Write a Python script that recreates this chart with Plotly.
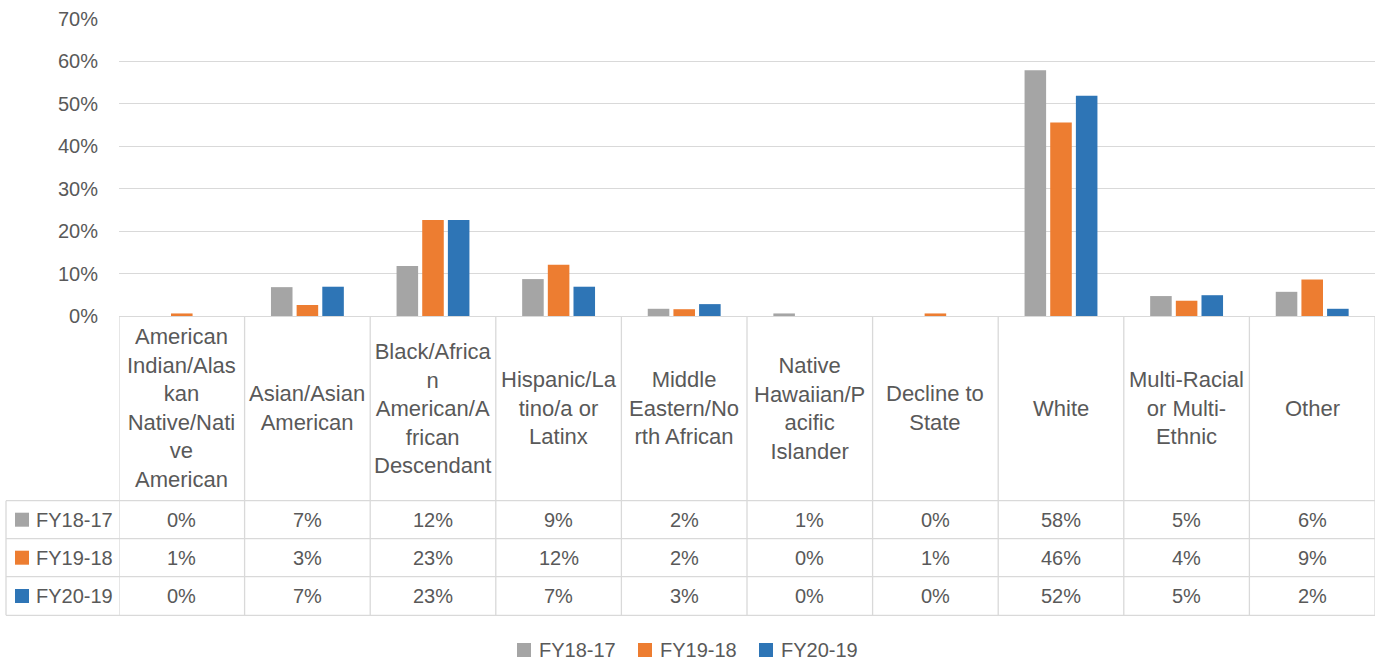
import plotly.graph_objects as go

# ---------------- data ----------------
categories = [
    "American Indian/Alaskan Native/Native American",
    "Asian/Asian American",
    "Black/African American/African Descendant",
    "Hispanic/Latino/a or Latinx",
    "Middle Eastern/North African",
    "Native Hawaiian/Pacific Islander",
    "Decline to State",
    "White",
    "Multi-Racial or Multi-Ethnic",
    "Other",
]
category_labels = [
    "American<br>Indian/Alas<br>kan<br>Native/Nati<br>ve<br>American",
    "Asian/Asian<br>American",
    "Black/Africa<br>n<br>American/A<br>frican<br>Descendant",
    "Hispanic/La<br>tino/a or<br>Latinx",
    "Middle<br>Eastern/No<br>rth African",
    "Native<br>Hawaiian/P<br>acific<br>Islander",
    "Decline to<br>State",
    "White",
    "Multi-Racial<br>or Multi-<br>Ethnic",
    "Other",
]
series_names = ["FY18-17", "FY19-18", "FY20-19"]
fy18_17 = [0.000, 0.068, 0.118, 0.087, 0.017, 0.006, 0.000, 0.579, 0.047, 0.057]
fy19_18 = [0.006, 0.026, 0.226, 0.121, 0.016, 0.000, 0.006, 0.456, 0.036, 0.086]
fy20_19 = [0.000, 0.069, 0.226, 0.069, 0.028, 0.000, 0.000, 0.519, 0.049, 0.017]
series_values = [fy18_17, fy19_18, fy20_19]
colors = ["#A5A5A5", "#ED7D31", "#2E75B6"]
y_ticks = [0, 0.1, 0.2, 0.3, 0.4, 0.5, 0.6, 0.7]

# ---------------- layout geometry ----------------
W, H = 1383, 660
L, R, T, B = 119, 8, 19, 344
PW, PH = W - L - R, H - T - B
Y0 = H - B  # pixel y of the 0% line


def xpap(px):
    return (px - L) / PW


def ypap(py):
    return (Y0 - py) / PH


TEXT = "#595959"
GRID = "#D9D9D9"
FONT = "Liberation Sans, Arial, sans-serif"

fig = go.Figure()
for name, vals, col in zip(series_names, series_values, colors):
    fig.add_trace(go.Bar(
        x=categories, y=vals, name=name, marker_color=col,
        marker_line_width=0, showlegend=False,
    ))

# table geometry (pixels)
header_bottom = 500.7
row_lines = [538.7, 576.7, 615.3]
table_left = 6
n = len(categories)

shapes = []
line = dict(color=GRID, width=1.3)
for i in range(n + 1):
    shapes.append(dict(type="line", xref="x", yref="paper",
                       x0=i - 0.5, x1=i - 0.5, y0=ypap(Y0), y1=ypap(row_lines[-1]),
                       line=line, layer="above"))
shapes.append(dict(type="line", xref="paper", yref="paper",
                   x0=xpap(table_left), x1=xpap(table_left),
                   y0=ypap(header_bottom), y1=ypap(row_lines[-1]), line=line))
for py in [header_bottom] + row_lines:
    shapes.append(dict(type="line", xref="paper", yref="paper",
                       x0=xpap(table_left), x1=1, y0=ypap(py), y1=ypap(py), line=line))

annotations = []
for i, lab in enumerate(category_labels):
    annotations.append(dict(x=i, y=ypap((Y0 + header_bottom) / 2), xref="x", yref="paper",
                            text=lab, showarrow=False, font=dict(size=22, color=TEXT, family=FONT),
                            align="center", xanchor="center", yanchor="middle"))
row_tops = [header_bottom] + row_lines[:-1]
for r, (name, vals, col) in enumerate(zip(series_names, series_values, colors)):
    cy = (row_tops[r] + row_lines[r]) / 2
    shapes.append(dict(type="rect", xref="paper", yref="paper",
                       x0=xpap(15), x1=xpap(29), y0=ypap(cy - 7), y1=ypap(cy + 7),
                       fillcolor=col, line=dict(width=0)))
    annotations.append(dict(x=xpap(34), y=ypap(cy), xref="paper", yref="paper",
                            text=name, showarrow=False, xanchor="left", yanchor="middle",
                            font=dict(size=20, color=TEXT, family=FONT)))
    for i, v in enumerate(vals):
        annotations.append(dict(x=i, y=ypap(cy), xref="x", yref="paper",
                                text=f"{round(v * 100):d}%", showarrow=False,
                                xanchor="center", yanchor="middle",
                                font=dict(size=20, color=TEXT, family=FONT)))

# bottom legend (drawn manually)
legend_y = 650
legend_x = [517, 638, 759]
for name, col, lx in zip(series_names, colors, legend_x):
    shapes.append(dict(type="rect", xref="paper", yref="paper",
                       x0=xpap(lx), x1=xpap(lx + 14),
                       y0=ypap(legend_y - 7), y1=ypap(legend_y + 7),
                       fillcolor=col, line=dict(width=0)))
    annotations.append(dict(x=xpap(lx + 20), y=ypap(legend_y), xref="paper", yref="paper",
                            text=name, showarrow=False, xanchor="left", yanchor="middle",
                            font=dict(size=20, color=TEXT, family=FONT)))

fig.update_layout(
    width=W, height=H,
    margin=dict(l=L, r=R, t=T, b=B, autoexpand=False),
    plot_bgcolor="white", paper_bgcolor="white",
    barmode="group", bargap=0.387, bargroupgap=0.16,
    font=dict(family=FONT, color=TEXT, size=20),
    shapes=shapes, annotations=annotations,
    showlegend=False,
    xaxis=dict(range=[-0.5, n - 0.5], showticklabels=False, showgrid=False,
               showline=False, zeroline=False, fixedrange=True),
    yaxis=dict(range=[0, 0.7], tickvals=y_ticks, tickformat=".0%",
               showgrid=True, gridcolor=GRID, gridwidth=1.3,
               zeroline=True, zerolinecolor=GRID, zerolinewidth=1.3,
               showline=False, ticklabelstandoff=20,
               tickfont=dict(size=20, color=TEXT), fixedrange=True),
)

fig.write_html("out.html", config={"displayModeBar": False},
               post_script="document.body.style.margin='0';document.body.style.overflow='hidden';")
